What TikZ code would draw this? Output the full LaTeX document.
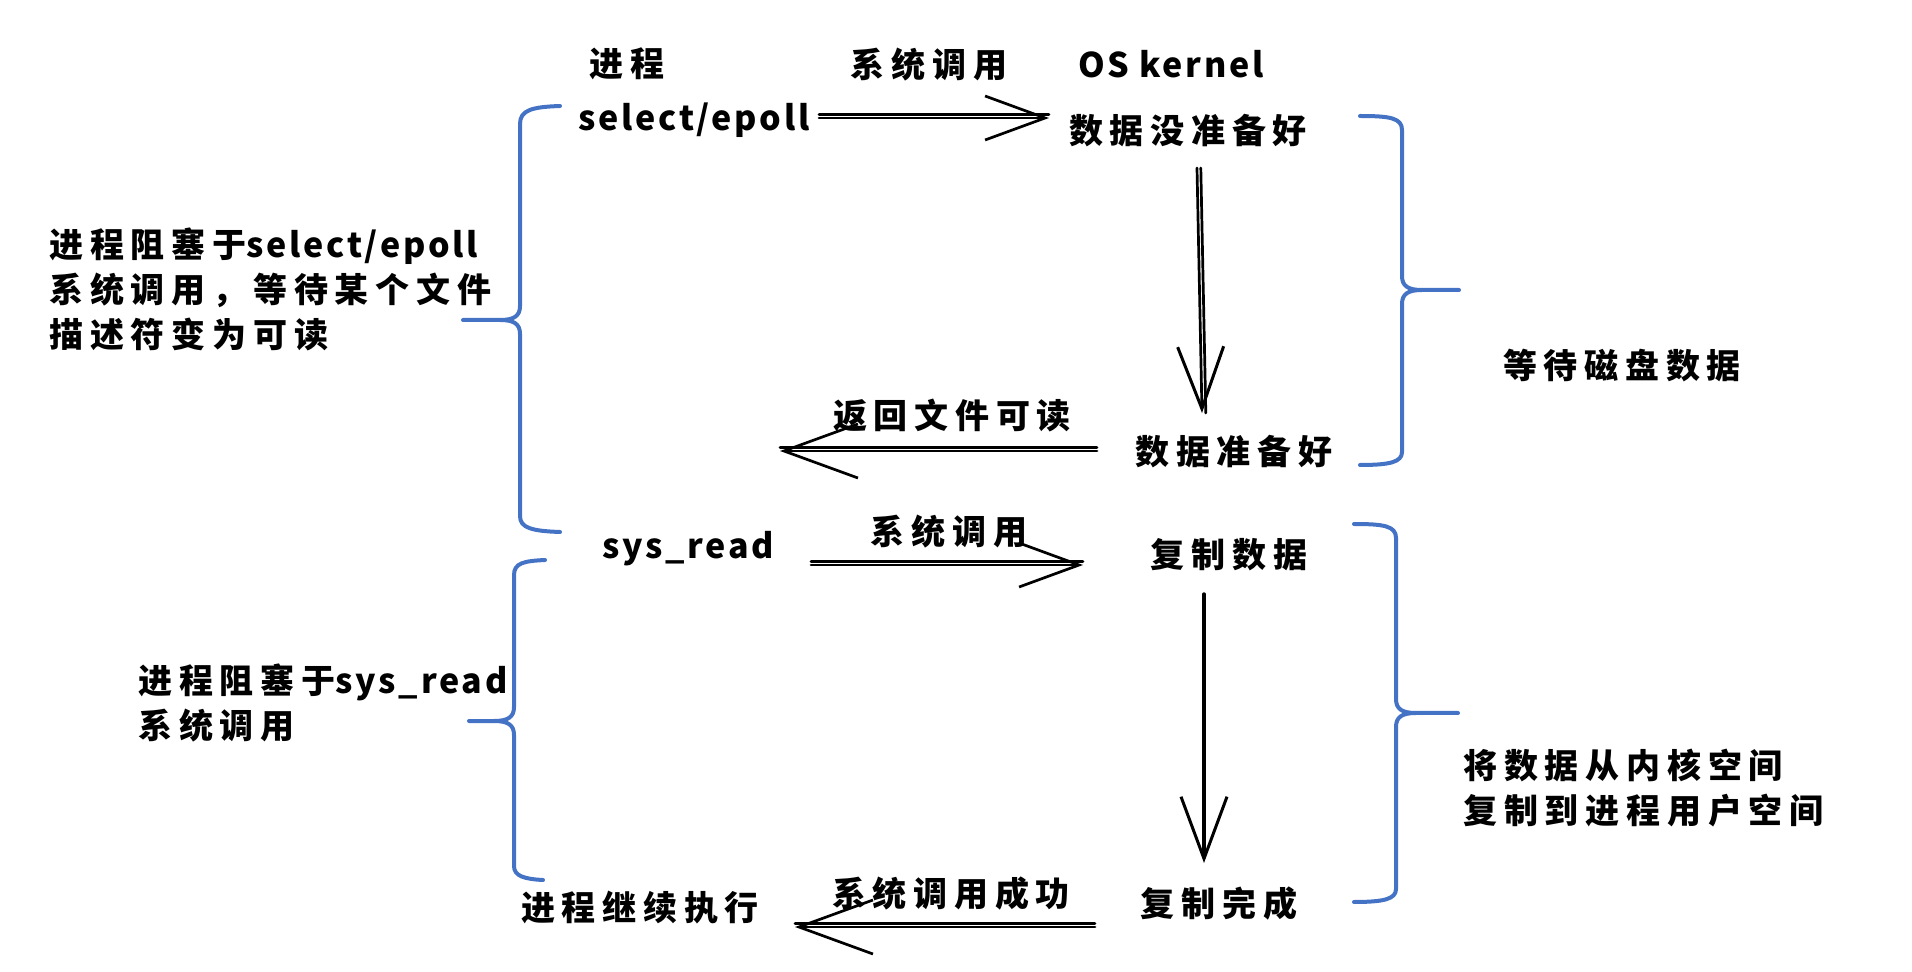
\documentclass[tikz,border=0pt]{standalone}
\usepackage{fontspec}
\usetikzlibrary{arrows.meta}
\newfontfamily\cjk[LetterSpace=20]{Noto Sans CJK SC}
\newfontfamily\lat[LetterSpace=8]{Noto Sans CJK SC}
\definecolor{braceblue}{HTML}{4472C4}

\begin{document}
\begin{tikzpicture}[x=0.5pt,y=-0.5pt,
  txt/.style={inner sep=0pt, text=black,
    font={\cjk\bfseries\fontsize{17pt}{22.5pt}\selectfont}},
  para/.style={txt, align=left, anchor=west},
  sk/.style={line width=1.35pt, line cap=round, line join=round, draw=black},
  hdbl/.style={postaction={draw, -, transform canvas={yshift=1.8pt}}},
  vdbl/.style={postaction={draw, -, transform canvas={xshift=1.9pt}}},
  tipA/.style={-{Straight Barb[length=30pt,width=22pt,line width=1.35pt]}},
  tipB/.style={-{Straight Barb[length=37pt,width=27pt,line width=1.35pt]}},
  tipV/.style={-{Straight Barb[length=31pt,width=23pt,line width=1.5pt]}},
  bracestroke/.style={draw=braceblue, line width=2pt, line cap=round, line join=round}
]
\useasboundingbox (0,0) rectangle (1912,972);

% column headings
\node[txt] (hproc) at (627,64) {进程};
\node[txt] (hcall) at (929,65) {系统调用};
\node[txt] (hkern) at (1171,64) {{\lat OS kernel}};

% process side
\node[txt] (sel)  at (694,120) {{\lat select/epoll}};
\node[txt] (sr)   at (688,549) {{\lat sys\_read}};
\node[txt] (cont) at (640,908) {进程继续执行};

% kernel side
\node[txt] (nr)    at (1188,131) {数据没准备好};
\node[txt] (ready) at (1234,452) {数据准备好};
\node[txt] (copy)  at (1229,555) {复制数据};
\node[txt] (done)  at (1219,904) {复制完成};

% arrow labels
\node[txt] (lret)  at (952,415) {返回文件可读};
\node[txt] (lcall) at (949,532) {系统调用};
\node[txt] (lok)   at (951,894) {系统调用成功};

% side notes
\node[para] (nsel) at (49,289) {进程阻塞于{\lat select/epoll}\\系统调用，等待某个文件\\描述符变为可读};
\node[para] (nsr)  at (138,703) {进程阻塞于{\lat sys\_read}\\系统调用};
\node[txt]  (ndisk) at (1622,366) {等待磁盘数据};
\node[para] (ncopy) at (1463,788) {将数据从内核空间\\复制到进程用户空间};

\coordinate (retEnd) at (780,451);

% connectors
\draw[sk, hdbl, tipA] ([shift={(125,-2)}]sel.center) -- ([shift={(-139,-13)}]nr.center);
\draw[sk, vdbl, tipV] ([shift={(9,37)}]nr.center) -- ([shift={(-32,-39)}]ready.center);
\draw[sk, hdbl, tipB] ([shift={(-137,-1)}]ready.center) -- (retEnd);
\draw[sk, hdbl, tipA] ([shift={(123,16)}]sr.center) -- ([shift={(-146,10)}]copy.center);
\draw[sk, line width=1.7pt, tipV] ([shift={(-25,39)}]copy.center) -- ([shift={(-15,-41)}]done.center);
\draw[sk, hdbl, tipB] ([shift={(-124,23)}]done.center) -- ([shift={(155,19)}]cont.center);

% braces
\draw[bracestroke] (560,106) .. controls (532,107) and (520,110) .. (520,124) -- (520,306)
  .. controls (520,316) and (514,320) .. (500,320) -- (463,320);
\draw[bracestroke] (500,320) .. controls (514,320) and (520,324) .. (520,334) -- (520,516)
  .. controls (520,528) and (532,531) .. (560,532);

\draw[bracestroke] (545,560) .. controls (524,561) and (514,563) .. (514,575) -- (514,707)
  .. controls (514,717) and (508,721) .. (494,721) -- (469,721);
\draw[bracestroke] (494,721) .. controls (508,721) and (514,725) .. (514,735) -- (514,866)
  .. controls (514,876) and (524,879) .. (543,880);

\draw[bracestroke] (1360,116) .. controls (1390,116) and (1402,118) .. (1402,130) -- (1402,276)
  .. controls (1402,286) and (1408,290) .. (1422,290) -- (1459,290);
\draw[bracestroke] (1422,290) .. controls (1408,290) and (1402,294) .. (1402,304) -- (1402,452)
  .. controls (1402,462) and (1390,465) .. (1360,465);

\draw[bracestroke] (1354,524) .. controls (1384,524) and (1396,526) .. (1396,538) -- (1396,699)
  .. controls (1396,709) and (1402,713) .. (1416,713) -- (1458,713);
\draw[bracestroke] (1416,713) .. controls (1402,713) and (1396,717) .. (1396,727) -- (1396,889)
  .. controls (1396,899) and (1384,902) .. (1354,902);
\end{tikzpicture}
\end{document}
